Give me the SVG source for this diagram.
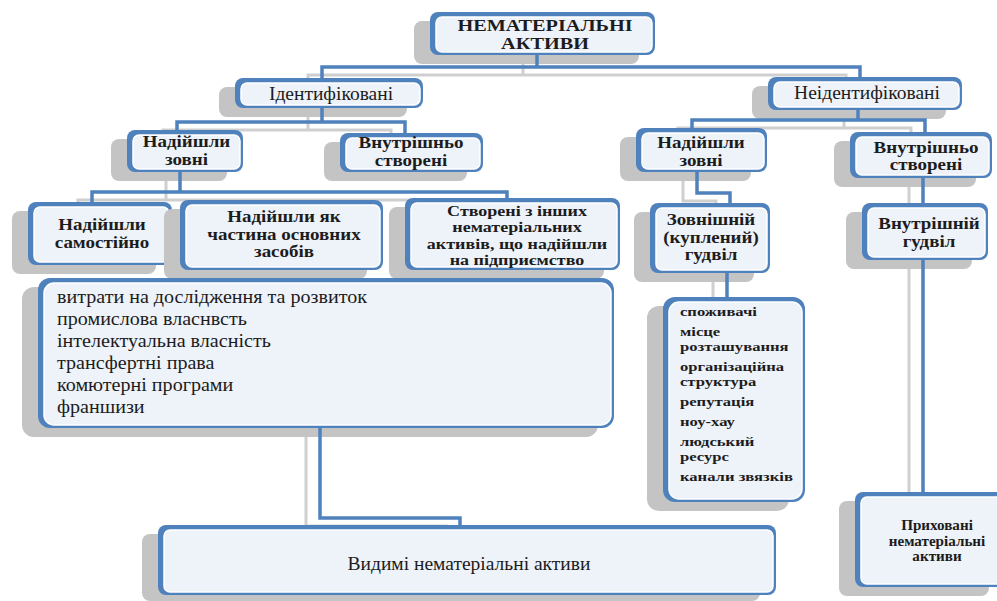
<svg xmlns="http://www.w3.org/2000/svg" width="997" height="601" viewBox="0 0 997 601">
<style>
.sh{fill:#c4c4c4}
.bd{fill:#4f81bd}
.in{fill:#eef2f9;stroke:#ffffff;stroke-width:1.5}
.c{fill:none;stroke:#4f81bd;stroke-width:3.5}
.cs{fill:none;stroke:#cfcfcf;stroke-width:3}
text{font-family:"Liberation Serif","Times New Roman",serif;fill:#1c1c1c}
.m{text-anchor:middle}
.b{font-weight:bold}
.f162{font-size:16.2px}
.f158{font-size:15.8px}
.f149{font-size:14.9px}
.f135{font-size:13.5px}
.f14{font-size:14px}
.f19{font-size:19px}
.f20{font-size:19.5px}
</style>
<rect width="997" height="601" fill="#ffffff"/>

<g id="connector-shadows" transform="translate(-14,8)">
<path class="cs" d="M537,55 V67 M322,78 V67 H860 V77"/>
<path class="cs" d="M322,108 V122 M177,130 V122 H405 V133"/>
<path class="cs" d="M858,110 V120 M692,128 V120 H925 V132"/>
<path class="cs" d="M180,172 V192 M92,202 V192 H507 V198"/>
<path class="cs" d="M697,172 V193 H730 V203"/>
<path class="cs" d="M923,178 V203"/>
<path class="cs" d="M923,260 V492"/>
<path class="cs" d="M727,273 V297"/>
<path class="cs" d="M320,428 V518 H460 V525"/>
</g>

<g id="n-root">
<rect class="sh" x="414" y="21" width="225" height="43" rx="8"/>
<rect class="bd" x="430" y="12" width="225" height="43" rx="8"/>
<rect class="in" x="436" y="17" width="216" height="35" rx="6"/>
<g transform="translate(545,0) scale(1.25,1)">
<text class="m b f162" x="0" y="31.5">НЕМАТЕРІАЛЬНІ</text>
<text class="m b f162" x="0" y="49.5">АКТИВИ</text>
</g>
</g>

<g id="n-ident">
<rect class="sh" x="219" y="87" width="188" height="30" rx="8"/>
<rect class="bd" x="235" y="78" width="188" height="30" rx="8"/>
<rect class="in" x="241" y="83" width="179" height="22" rx="6"/>
<text class="m f20" x="331" y="99.5">Ідентифіковані</text>
</g>

<g id="n-neident">
<rect class="sh" x="752" y="86" width="194" height="33" rx="8"/>
<rect class="bd" x="768" y="77" width="194" height="33" rx="8"/>
<rect class="in" x="774" y="82" width="185" height="25" rx="6"/>
<text class="m f20" x="867" y="99">Неідентифіковані</text>
</g>

<g id="n-zovni-l">
<rect class="sh" x="111" y="139" width="116" height="42" rx="8"/>
<rect class="bd" x="127" y="130" width="116" height="42" rx="8"/>
<rect class="in" x="133" y="135" width="107" height="34" rx="6"/>
<g transform="translate(186.5,0) scale(1.2,1)">
<text class="m b f158" x="0" y="147.5">Надійшли</text>
<text class="m b f158" x="0" y="165">зовні</text>
</g>
</g>

<g id="n-vnutr-l">
<rect class="sh" x="324" y="142" width="143" height="39" rx="8"/>
<rect class="bd" x="340" y="133" width="143" height="39" rx="8"/>
<rect class="in" x="346" y="138" width="134" height="31" rx="6"/>
<g transform="translate(411,0) scale(1.2,1)">
<text class="m b f158" x="0" y="148.5">Внутрішньо</text>
<text class="m b f158" x="0" y="166">створені</text>
</g>
</g>

<g id="n-zovni-r">
<rect class="sh" x="620" y="137" width="131" height="44" rx="8"/>
<rect class="bd" x="636" y="128" width="131" height="44" rx="8"/>
<rect class="in" x="642" y="133" width="122" height="36" rx="6"/>
<g transform="translate(701,0) scale(1.2,1)">
<text class="m b f158" x="0" y="148.5">Надійшли</text>
<text class="m b f158" x="0" y="166">зовні</text>
</g>
</g>

<g id="n-vnutr-r">
<rect class="sh" x="834" y="141" width="142" height="46" rx="8"/>
<rect class="bd" x="850" y="132" width="142" height="46" rx="8"/>
<rect class="in" x="856" y="137" width="133" height="38" rx="6"/>
<g transform="translate(926,0) scale(1.2,1)">
<text class="m b f158" x="0" y="153">Внутрішньо</text>
<text class="m b f158" x="0" y="170.5">створені</text>
</g>
</g>

<g id="n-samost">
<rect class="sh" x="12" y="211" width="144" height="63" rx="8"/>
<rect class="bd" x="28" y="202" width="144" height="63" rx="8"/>
<rect class="in" x="34" y="207" width="135" height="55" rx="6"/>
<g transform="translate(102,0) scale(1.2,1)">
<text class="m b f158" x="0" y="230.5">Надійшли</text>
<text class="m b f158" x="0" y="248">самостійно</text>
</g>
</g>

<g id="n-chastyna">
<rect class="sh" x="164" y="209" width="203" height="70" rx="8"/>
<rect class="bd" x="180" y="200" width="203" height="70" rx="8"/>
<rect class="in" x="186" y="205" width="194" height="62" rx="6"/>
<g transform="translate(284,0) scale(1.2,1)">
<text class="m b f158" x="0" y="222.5">Надійшли як</text>
<text class="m b f158" x="0" y="240">частина основних</text>
<text class="m b f158" x="0" y="257.5">засобів</text>
</g>
</g>

<g id="n-stvoreni">
<rect class="sh" x="389" y="207" width="215" height="72" rx="8"/>
<rect class="bd" x="405" y="198" width="215" height="72" rx="8"/>
<rect class="in" x="411" y="203" width="206" height="64" rx="6"/>
<g transform="translate(517,0) scale(1.21,1)">
<text class="m b f149" x="0" y="216">Створені з інших</text>
<text class="m b f149" x="0" y="232.5">нематеріальних</text>
<text class="m b f149" x="0" y="249">активів, що надійшли</text>
<text class="m b f149" x="0" y="265.5">на підприємство</text>
</g>
</g>

<g id="n-zovn-gudvil">
<rect class="sh" x="634" y="212" width="120" height="70" rx="8"/>
<rect class="bd" x="650" y="203" width="120" height="70" rx="8"/>
<rect class="in" x="656" y="208" width="111" height="62" rx="6"/>
<g transform="translate(711,0) scale(1.2,1)">
<text class="m b f158" x="0" y="225.5">Зовнішній</text>
<text class="m b f158" x="0" y="243">(куплений)</text>
<text class="m b f158" x="0" y="260.5">гудвіл</text>
</g>
</g>

<g id="n-vnutr-gudvil">
<rect class="sh" x="846" y="212" width="126" height="57" rx="8"/>
<rect class="bd" x="862" y="203" width="126" height="57" rx="8"/>
<rect class="in" x="868" y="208" width="117" height="49" rx="6"/>
<g transform="translate(929,0) scale(1.2,1)">
<text class="m b f158" x="0" y="229.5">Внутрішній</text>
<text class="m b f158" x="0" y="247">гудвіл</text>
</g>
</g>

<g id="n-vydymi-list">
<rect class="sh" x="22" y="287" width="576" height="150" rx="12"/>
<rect class="bd" x="38" y="278" width="576" height="150" rx="12"/>
<rect class="in" x="44" y="283" width="567" height="142" rx="10"/>
<g transform="translate(57,0) scale(1.03,1)">
<text class="f20" x="0" y="303">витрати на дослідження та розвиток</text>
<text class="f20" x="0" y="325">промислова власнвсть</text>
<text class="f20" x="0" y="347">інтелектуальна  власність</text>
<text class="f20" x="0" y="369">трансфертні  права</text>
<text class="f20" x="0" y="391">комютерні програми</text>
<text class="f20" x="0" y="413">франшизи</text>
</g>
</g>

<g id="n-gudvil-list">
<rect class="sh" x="647" y="306" width="142" height="205" rx="12"/>
<rect class="bd" x="663" y="297" width="142" height="205" rx="12"/>
<rect class="in" x="669" y="302" width="133" height="197" rx="10"/>
<g transform="translate(680,0) scale(1.23,1)">
<text class="b f135" x="0" y="316">споживачі</text>
<text class="b f135" x="0" y="336">місце</text>
<text class="b f135" x="0" y="351">розташування</text>
<text class="b f135" x="0" y="371">організаційна</text>
<text class="b f135" x="0" y="386">структура</text>
<text class="b f135" x="0" y="406">репутація</text>
<text class="b f135" x="0" y="426">ноу-хау</text>
<text class="b f135" x="0" y="446">людський</text>
<text class="b f135" x="0" y="461">ресурс</text>
<text class="b f135" x="0" y="481">канали  звязків</text>
</g>
</g>

<g id="n-vydymi">
<rect class="sh" x="142" y="534" width="618" height="67" rx="8"/>
<rect class="bd" x="158" y="525" width="618" height="70" rx="8"/>
<rect class="in" x="164" y="530" width="609" height="62" rx="6"/>
<text class="m f20" x="469" y="570">Видимі нематеріальні активи</text>
</g>

<g id="n-pryhovani">
<rect class="sh" x="839" y="501" width="150" height="95" rx="8"/>
<rect class="bd" x="855" y="492" width="150" height="95" rx="8"/>
<rect class="in" x="861" y="497" width="141" height="87" rx="6"/>
<g transform="translate(937,0) scale(1.08,1)">
<text class="m b f14" x="0" y="530.5">Приховані</text>
<text class="m b f14" x="0" y="546">нематеріальні</text>
<text class="m b f14" x="0" y="561.5">активи</text>
</g>
</g>

<g id="connectors">
<path class="c" d="M537,55 V67 M322,78 V67 H860 V77"/>
<path class="c" d="M322,108 V122 M177,130 V122 H405 V133"/>
<path class="c" d="M858,110 V120 M692,128 V120 H925 V132"/>
<path class="c" d="M180,172 V192 M92,202 V192 H507 V198"/>
<path class="c" d="M697,172 V193 H730 V203"/>
<path class="c" d="M923,178 V203"/>
<path class="c" d="M923,260 V492"/>
<path class="c" d="M727,273 V297"/>
<path class="c" d="M320,428 V518 H460 V525"/>
</g>
</svg>
